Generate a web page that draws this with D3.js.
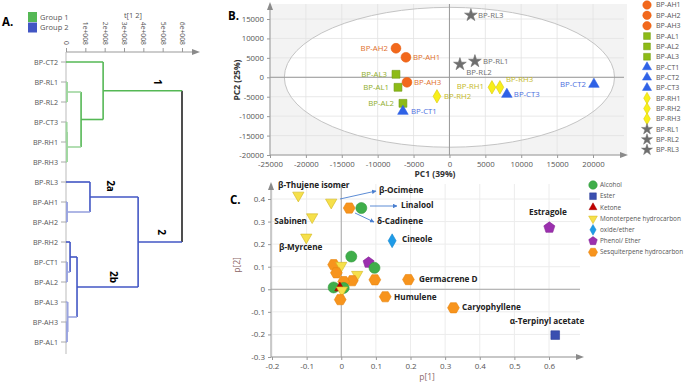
<html>
<head>
<script src="https://d3js.org/d3.v7.min.js"></script>
<style>
  body { margin: 0; background: #fff; }
  text { font-family: "Open Sans", "Noto Sans", sans-serif; }
</style>
</head>
<body>
<svg id="fig" width="685" height="384"></svg>
<script>
// ---------- A. dendrogram data ----------
var leafNames = ["BP-CT2", "BP-RL1", "BP-RL2", "BP-CT3", "BP-RH1", "BP-RH3", "BP-RL3", "BP-AH1",
                 "BP-AH2", "BP-RH2", "BP-CT1", "BP-AL2", "BP-AL3", "BP-AH3", "BP-AL1"]
var groupNames = ["Group 1", "Group 2"]
var treeTicks = [0, 1, 2, 3, 4, 5, 6]   // in units of 1e+008
// merge heights (1e+008)
var dendro = { h: 6.0, children: [
  { h: 1.92, tag: "1", group: 0, children: [
    { name: "BP-CT2" },
    { h: 0.78, children: [
      { h: 0.05, children: [{ name: "BP-RL1" }, { name: "BP-RL2" }] },
      { h: 0.05, children: [{ h: 0.03, children: [{ name: "BP-CT3" }, { name: "BP-RH1" }] }, { name: "BP-RH3" }] }
    ] }
  ] },
  { h: 3.73, tag: "2", group: 1, children: [
    { h: 1.24, tag: "2a", children: [
      { name: "BP-RL3" },
      { h: 0.05, children: [{ name: "BP-AH1" }, { name: "BP-AH2" }] }
    ] },
    { h: 0.57, tag: "2b", children: [
      { h: 0.21, children: [{ name: "BP-RH2" }, { h: 0.05, children: [{ name: "BP-CT1" }, { name: "BP-AL2" }] }] },
      { h: 0.08, children: [{ name: "BP-AL3" }, { h: 0.05, children: [{ name: "BP-AH3" }, { name: "BP-AL1" }] }] }
    ] }
  ] }
] }

// ---------- B. PCA scores ----------
var sampleNames = ["BP-AH1", "BP-AH2", "BP-AH3", "BP-AL1", "BP-AL2", "BP-AL3", "BP-CT1", "BP-CT2",
                   "BP-CT3", "BP-RH1", "BP-RH2", "BP-RH3", "BP-RL1", "BP-RL2", "BP-RL3"]
var sampleGroup = ["AH", "AH", "AH", "AL", "AL", "AL", "CT", "CT", "CT", "RH", "RH", "RH", "RL", "RL", "RL"]
var pc1 = [-6060, -7450, -5920, -7170, -6480, -7450, -6480, 20130, 8000, 5920, -1740, 7030, 3550, 1460, 2990]
var pc2 = [5150, 7470, -1290, -2580, -6700, 770, -8760, -1800, -4380, -2580, -4900, -2580, 4120, 3350, 15980]
var pcXTicks = [-25000, -20000, -15000, -10000, -5000, 0, 5000, 10000, 15000, 20000]
var pcYTicks = [-20000, -15000, -10000, -5000, 0, 5000, 10000, 15000]
var ellipseRadii = [23000, 18000]

// ---------- C. loadings ----------
var compoundClasses = ["Alcohol", "Ester", "Ketone", "Monoterpene hydrocarbon", "oxide/ether",
                       "Phenol/ Ether", "Sesquiterpene hydrocarbon"]
var loadName = ["", "", "", "", "", "", "", "", "", "", "", "", "", "", "",
                "β-Thujene isomer", "β-Ocimene", "δ-Cadinene", "Linalool", "Sabinen", "β-Myrcene",
                "Cineole", "Estragole", "Germacrene D", "Humulene", "Caryophyllene", "α-Terpinyl acetate"]
var loadClass = ["Alcohol", "Sesquiterpene hydrocarbon", "Monoterpene hydrocarbon", "Phenol/ Ether", "Alcohol",
                 "Sesquiterpene hydrocarbon", "Monoterpene hydrocarbon", "Sesquiterpene hydrocarbon",
                 "Sesquiterpene hydrocarbon", "Sesquiterpene hydrocarbon", "Alcohol", "Alcohol", "Ketone",
                 "Monoterpene hydrocarbon", "Sesquiterpene hydrocarbon",
                 "Monoterpene hydrocarbon", "Monoterpene hydrocarbon", "Sesquiterpene hydrocarbon", "Alcohol",
                 "Monoterpene hydrocarbon", "Monoterpene hydrocarbon", "oxide/ether", "Phenol/ Ether",
                 "Sesquiterpene hydrocarbon", "Sesquiterpene hydrocarbon", "Sesquiterpene hydrocarbon", "Ester"]
var loadP1 = [0.029, -0.022, 0.0, 0.079, 0.096, -0.014, 0.046, 0.032, 0.007, 0.097, -0.022, 0.007, -0.004, 0.002, -0.003,
              -0.124, -0.029, 0.023, 0.058, -0.084, -0.101, 0.147, 0.601, 0.194, 0.127, 0.324, 0.618]
var loadP2 = [0.145, 0.109, 0.105, 0.118, 0.095, 0.073, 0.065, 0.038, 0.034, 0.042, 0.008, 0.006, 0.006, -0.004, -0.046,
              0.416, 0.385, 0.36, 0.36, 0.32, 0.23, 0.215, 0.273, 0.043, -0.033, -0.082, -0.203]
var pXTicks = [-0.2, -0.1, 0, 0.1, 0.2, 0.3, 0.4, 0.5, 0.6]
var pYTicks = [-0.3, -0.2, -0.1, 0, 0.1, 0.2, 0.3, 0.4]

var svg = d3.select("#fig")
var plain = function(d) { return String(+d.toFixed(2)) }   // hyphen minus, no thousands separator

// polygon symbol for hexagons / pentagons
function polySymbol(n, rot) {
  return { draw: function(ctx, size) {
    var r = Math.sqrt(size / (n / 2 * Math.sin(2 * Math.PI / n)))
    for (var i = 0; i < n; i++) {
      var a = rot + i * 2 * Math.PI / n
      if (i) ctx.lineTo(r * Math.cos(a), r * Math.sin(a)); else ctx.moveTo(r * Math.cos(a), r * Math.sin(a))
    }
    ctx.closePath()
  } }
}
var symHex = polySymbol(6, 0), symPent = polySymbol(5, -Math.PI / 2)

function arrowHead(g, x, y, dir) {
  var p = dir === "right" ? [[x, y], [x - 8, y - 3], [x - 8, y + 3]] : [[x, y], [x - 3, y + 8], [x + 3, y + 8]]
  g.append("path").attr("d", d3.line()(p) + "Z").attr("fill", "#8a8a8a")
}
function panelLetter(x, y, t) {
  svg.append("text").attr("x", x).attr("y", y).attr("font-size", 11.5).attr("font-weight", "bold").text(t)
}

// ================= A =================
var gA = svg.append("g")
panelLetter(2, 26, "A.")
var groupCol = ["#55b855", "#4256c4"], groupLight = ["#9fd69f", "#9aa4df"]
groupNames.forEach(function(n, i) {
  gA.append("rect").attr("x", 28).attr("y", 12 + i * 10.5).attr("width", 9).attr("height", 10).attr("fill", groupCol[i])
  gA.append("text").attr("x", 40).attr("y", 19.5 + i * 10.5).attr("font-size", 7.5).attr("fill", "#555").text(n)
})
var xA = d3.scaleLinear().domain([0, 6]).range([66, 182])
var yA = d3.scalePoint().domain(leafNames).range([62, 342])
gA.append("text").attr("x", 133).attr("y", 18).attr("text-anchor", "middle").attr("font-size", 7.5).attr("fill", "#555").text("t[1 2]")

var axA = gA.append("g").attr("transform", "translate(0,52)")
axA.call(d3.axisTop(xA).tickValues(d3.range(0, 6.71, 0.2)).tickSize(2).tickFormat(""))
axA.call(d3.axisTop(xA).tickValues(treeTicks).tickSize(4).tickFormat(function(d) { return d === 0 ? "0" : d + "e+008" }))
axA.selectAll(".domain").remove()
axA.selectAll("line").attr("stroke", "#999")
axA.selectAll("text").attr("fill", "#555").attr("font-size", 6.8).attr("font-family", "'Open Sans',sans-serif")
  .attr("y", 0).attr("dy", "0.35em").attr("text-anchor", "end").attr("transform", "translate(0,-7) rotate(90)")
axA.append("line").attr("x1", 66).attr("x2", 196).attr("stroke", "#999")
arrowHead(axA, 200, 0, "right")
gA.append("line").attr("x1", 66).attr("x2", 66).attr("y1", 52).attr("y2", 354).attr("stroke", "#bbb")
leafNames.forEach(function(n) {
  gA.append("line").attr("x1", 61).attr("x2", 66).attr("y1", yA(n)).attr("y2", yA(n)).attr("stroke", "#aaa")
  gA.append("text").attr("x", 58).attr("y", yA(n)).attr("dy", "0.35em").attr("text-anchor", "end")
    .attr("font-size", 7.2).attr("fill", "#555").text(n)
})

var root = d3.hierarchy(dendro, function(d) { return d.children })
root.eachAfter(function(n) {
  n.py = n.children ? d3.mean(n.children, function(c) { return c.py }) : yA(n.data.name)
  n.px = xA(n.data.h || 0)
})
root.children.forEach(function(c, i) { c.descendants().forEach(function(d) { d.grp = i }) })
var linkG = gA.append("g").attr("fill", "none")
root.descendants().forEach(function(n) {
  if (!n.children) return
  var light = n.data.h < 0.1
  var col = n === root ? "#222" : (light ? groupLight[n.grp] : groupCol[n.grp])
  var ys = n.children.map(function(c) { return c.py })
  linkG.append("line").attr("x1", n.px).attr("x2", n.px).attr("y1", d3.min(ys)).attr("y2", d3.max(ys))
    .attr("stroke", col).attr("stroke-width", light ? 2 : 1.6)
  n.children.forEach(function(c) {
    var cl = c.children ? (c.data.h < 0.1 ? groupLight[c.grp] : groupCol[c.grp]) : groupLight[c.grp]
    if (!c.children && n.data.h >= 0.1) cl = groupCol[c.grp]
    linkG.append("line").attr("x1", c.px).attr("x2", n.px).attr("y1", c.py).attr("y2", c.py)
      .attr("stroke", cl).attr("stroke-width", 1.6)
  })
})
// cluster tags
var tagPos = { "1": [157, 82], "2": [161, 232], "2a": [110, 186], "2b": [113, 277] }
root.descendants().forEach(function(n) {
  if (!n.data.tag) return
  var p = tagPos[n.data.tag]
  gA.append("text").attr("transform", "translate(" + p[0] + "," + p[1] + ") rotate(90)")
    .attr("text-anchor", "middle").attr("dy", "0.35em").attr("font-size", 10).attr("font-weight", "bold").text(n.data.tag)
})

// ================= B =================
var gB = svg.append("g")
panelLetter(228, 20, "B.")
var xB = d3.scaleLinear().domain([-25000, 20000]).range([270, 593])
var yB = d3.scaleLinear().domain([-20000, 15000]).range([155, 19])
gB.append("rect").attr("x", 270).attr("y", 4).attr("width", 357).attr("height", 151).attr("fill", "#f3f3f3")
gB.append("ellipse").attr("cx", xB(0)).attr("cy", yB(0))
  .attr("rx", xB(ellipseRadii[0]) - xB(0)).attr("ry", yB(0) - yB(ellipseRadii[1])).attr("fill", "#fff")
pcXTicks.forEach(function(t) {
  gB.append("line").attr("x1", xB(t)).attr("x2", xB(t)).attr("y1", 4).attr("y2", 155).attr("stroke", "#e2e2e2").attr("stroke-width", 0.8)
})
pcYTicks.forEach(function(t) {
  gB.append("line").attr("x1", 270).attr("x2", 624).attr("y1", yB(t)).attr("y2", yB(t)).attr("stroke", "#e2e2e2").attr("stroke-width", 0.8)
})
gB.append("ellipse").attr("cx", xB(0)).attr("cy", yB(0))
  .attr("rx", xB(ellipseRadii[0]) - xB(0)).attr("ry", yB(0) - yB(ellipseRadii[1])).attr("fill", "none").attr("stroke", "#c4c4c4")
gB.append("line").attr("x1", 270).attr("x2", 624).attr("y1", yB(0)).attr("y2", yB(0)).attr("stroke", "#9a9a9a")
gB.append("line").attr("x1", xB(0)).attr("x2", xB(0)).attr("y1", 4).attr("y2", 155).attr("stroke", "#9a9a9a")

var axBx = gB.append("g").attr("transform", "translate(0,155)")
axBx.call(d3.axisBottom(xB).tickValues(d3.range(-25000, 24001, 1000)).tickSize(2).tickFormat(""))
axBx.call(d3.axisBottom(xB).tickValues(pcXTicks).tickSize(3).tickFormat(plain))
var axBy = gB.append("g").attr("transform", "translate(270,0)")
axBy.call(d3.axisLeft(yB).tickValues(d3.range(-20000, 18001, 1000)).tickSize(2).tickFormat(""))
axBy.call(d3.axisLeft(yB).tickValues(pcYTicks).tickSize(3).tickFormat(plain))
;[axBx, axBy].forEach(function(a) {
  a.selectAll(".domain").remove()
  a.selectAll("line").attr("stroke", "#999")
  a.selectAll("text").attr("fill", "#555").attr("font-size", 7.8).attr("font-family", "'Open Sans',sans-serif")
})
axBx.append("line").attr("x1", 270).attr("x2", 622).attr("stroke", "#999")
arrowHead(axBx, 628, 0, "right")
axBy.append("line").attr("y1", 155).attr("y2", 8).attr("stroke", "#999")
arrowHead(axBy, 0, 2, "up")
gB.append("text").attr("x", 435).attr("y", 177).attr("text-anchor", "middle").attr("font-size", 8.5).attr("font-weight", "bold").attr("fill", "#333").text("PC1 (39%)")
gB.append("text").attr("transform", "translate(240,80) rotate(-90)").attr("text-anchor", "middle").attr("font-size", 8.5).attr("font-weight", "bold").attr("fill", "#333").text("PC2 (25%)")

var grpStyle = {
  AH: { sym: d3.symbolCircle, fill: "#f2681c", stroke: "#e85e10", text: "#e0702c", size: 75 },
  AL: { sym: d3.symbolSquare, fill: "#8dbb17", stroke: "#6f9a10", text: "#8fae2a", size: 62 },
  CT: { sym: d3.symbolTriangle, fill: "#2f62e6", stroke: "#2f62e6", text: "#4d6fe0", size: 48 },
  RH: { sym: d3.symbolDiamond, fill: "#f8ef1a", stroke: "#d9c80a", text: "#c5b928", size: 52 },
  RL: { sym: d3.symbolStar, fill: "#6e6e6e", stroke: "#6e6e6e", text: "#707070", size: 50 }
}
var labB = { "BP-AH1": [7, 3, "start"], "BP-AH2": [-8, 3, "end"], "BP-AH3": [7, 3, "start"],
  "BP-AL1": [-9, 3, "end"], "BP-AL2": [-9, 3, "end"], "BP-AL3": [-9, 3, "end"], "BP-CT1": [8, 3, "start"],
  "BP-CT2": [-8, 3, "end"], "BP-CT3": [7, 3, "start"], "BP-RH1": [-8, 2, "end"], "BP-RH2": [7, 3, "start"],
  "BP-RH3": [6, -5, "start"], "BP-RL1": [8, 3, "start"], "BP-RL2": [19, 11, "middle"], "BP-RL3": [7, 3, "start"] }
sampleNames.forEach(function(n, i) {
  var st = grpStyle[sampleGroup[i]], px = xB(pc1[i]), py = yB(pc2[i])
  gB.append("path").attr("d", d3.symbol().type(st.sym).size(st.size)())
    .attr("transform", "translate(" + px + "," + py + ")").attr("fill", st.fill).attr("stroke", st.stroke).attr("stroke-width", 0.6)
  var l = labB[n]
  gB.append("text").attr("x", px + l[0]).attr("y", py + l[1]).attr("text-anchor", l[2])
    .attr("font-size", 7.8).attr("fill", st.text).text(n)
})
sampleNames.forEach(function(n, i) {
  var st = grpStyle[sampleGroup[i]], ly = 5 + i * 10.35
  gB.append("path").attr("d", d3.symbol().type(st.sym).size(st.size * 0.75)())
    .attr("transform", "translate(647," + ly + ")").attr("fill", st.fill).attr("stroke", st.stroke).attr("stroke-width", 0.5)
  gB.append("text").attr("x", 656).attr("y", ly).attr("dy", "0.35em").attr("font-size", 7).attr("fill", "#555").text(n)
})

// ================= C =================
var gC = svg.append("g")
panelLetter(230, 204, "C.")
var xC = d3.scaleLinear().domain([-0.2, 0.6]).range([272, 549])
var yC = d3.scaleLinear().domain([-0.3, 0.4]).range([357, 199])
pXTicks.forEach(function(t) {
  gC.append("line").attr("x1", xC(t)).attr("x2", xC(t)).attr("y1", 184).attr("y2", 357).attr("stroke", "#ececec")
})
pYTicks.forEach(function(t) {
  gC.append("line").attr("x1", 271).attr("x2", 580).attr("y1", yC(t)).attr("y2", yC(t)).attr("stroke", "#ececec")
})
gC.append("line").attr("x1", 271).attr("x2", 580).attr("y1", yC(0)).attr("y2", yC(0)).attr("stroke", "#a8a8a8")
gC.append("line").attr("x1", xC(0)).attr("x2", xC(0)).attr("y1", 184).attr("y2", 357).attr("stroke", "#a8a8a8")
var axCx = gC.append("g").attr("transform", "translate(0,357)")
axCx.call(d3.axisBottom(xC).tickValues(d3.range(-0.2, 0.681, 0.05)).tickSize(2).tickFormat(""))
axCx.call(d3.axisBottom(xC).tickValues(pXTicks).tickSize(3).tickFormat(plain))
var axCy = gC.append("g").attr("transform", "translate(271,0)")
axCy.call(d3.axisLeft(yC).tickValues(d3.range(-0.3, 0.451, 0.05)).tickSize(2).tickFormat(""))
axCy.call(d3.axisLeft(yC).tickValues(pYTicks).tickSize(3).tickFormat(plain))
;[axCx, axCy].forEach(function(a) {
  a.selectAll(".domain").remove()
  a.selectAll("line").attr("stroke", "#999")
  a.selectAll("text").attr("fill", "#555").attr("font-size", 8).attr("font-family", "'Open Sans',sans-serif")
})
axCx.append("line").attr("x1", 271).attr("x2", 578).attr("stroke", "#999")
arrowHead(axCx, 584, 0, "right")
axCy.append("line").attr("y1", 357).attr("y2", 188).attr("stroke", "#999")
arrowHead(axCy, 0, 182, "up")
gC.append("text").attr("x", 427).attr("y", 380).attr("text-anchor", "middle").attr("font-size", 8.5).attr("fill", "#8c6868").text("p[1]")
gC.append("text").attr("transform", "translate(240,265) rotate(-90)").attr("text-anchor", "middle").attr("font-size", 8.5).attr("fill", "#8c6868").text("p[2]")

var clsStyle = {
  "Alcohol": { sym: d3.symbolCircle, fill: "#3fae4a", stroke: "#33983d", size: 95, rot: 0 },
  "Ester": { sym: d3.symbolSquare, fill: "#3a4fb0", stroke: "#2d3f96", size: 75, rot: 0 },
  "Ketone": { sym: d3.symbolTriangle, fill: "#c00000", stroke: "#a00000", size: 45, rot: 0 },
  "Monoterpene hydrocarbon": { sym: d3.symbolTriangle, fill: "#f6e04a", stroke: "#d2b720", size: 55, rot: 180 },
  "oxide/ether": { sym: d3.symbolDiamond, fill: "#1e9be8", stroke: "#1a88cc", size: 55, rot: 0 },
  "Phenol/ Ether": { sym: symPent, fill: "#9b2fae", stroke: "#842596", size: 80, rot: 0 },
  "Sesquiterpene hydrocarbon": { sym: symHex, fill: "#f7941d", stroke: "#e7840d", size: 90, rot: 0 }
}
var labC = {
  "β-Thujene isomer": [278, 188, "start"], "Sabinen": [307, 224, "end"], "β-Myrcene": [279, 250, "start"],
  "β-Ocimene": [379, 193, "start"], "Linalool": [401, 208, "start"], "δ-Cadinene": [377, 224, "start"],
  "Cineole": [402, 242, "start"], "Estragole": [548, 215, "middle"], "Germacrene D": [419, 282, "start"],
  "Humulene": [394, 300, "start"], "Caryophyllene": [462, 310, "start"], "α-Terpinyl acetate": [547, 324, "middle"]
}
var arrowsC = { "β-Ocimene": [[340, 199], [376, 191]], "Linalool": [[370, 206], [397, 206]], "δ-Cadinene": [[355, 213], [374, 222]] }
var defs = svg.append("defs")
defs.append("marker").attr("id", "ah").attr("viewBox", "0 0 10 10").attr("refX", 9).attr("refY", 5)
  .attr("markerWidth", 5).attr("markerHeight", 5).attr("orient", "auto")
  .append("path").attr("d", "M0,0L10,5L0,10Z").attr("fill", "#4a7fd0")
Object.keys(arrowsC).forEach(function(k) {
  var a = arrowsC[k]
  gC.append("line").attr("x1", a[0][0]).attr("y1", a[0][1]).attr("x2", a[1][0]).attr("y2", a[1][1])
    .attr("stroke", "#4a7fd0").attr("stroke-width", 0.9).attr("marker-end", "url(#ah)")
})
loadP1.forEach(function(v, i) {
  var st = clsStyle[loadClass[i]]
  gC.append("path").attr("d", d3.symbol().type(st.sym).size(st.size)())
    .attr("transform", "translate(" + xC(v) + "," + yC(loadP2[i]) + ") rotate(" + st.rot + ")")
    .attr("fill", st.fill).attr("stroke", st.stroke).attr("stroke-width", 0.6)
  if (loadName[i]) {
    var l = labC[loadName[i]]
    gC.append("text").attr("x", l[0]).attr("y", l[1]).attr("text-anchor", l[2]).attr("font-size", 8.2)
      .attr("font-weight", "bold").attr("fill", "#222").text(loadName[i])
  }
})
compoundClasses.forEach(function(c, i) {
  var st = clsStyle[c], ly = 185 + i * 11.2
  gC.append("path").attr("d", d3.symbol().type(st.sym).size(st.size * 0.6)())
    .attr("transform", "translate(593," + ly + ") rotate(" + st.rot + ")").attr("fill", st.fill).attr("stroke", st.stroke).attr("stroke-width", 0.5)
  gC.append("text").attr("x", 600).attr("y", ly).attr("dy", "0.35em").attr("font-size", 6.4).attr("fill", "#555").text(c)
})
</script>
</body>
</html>
